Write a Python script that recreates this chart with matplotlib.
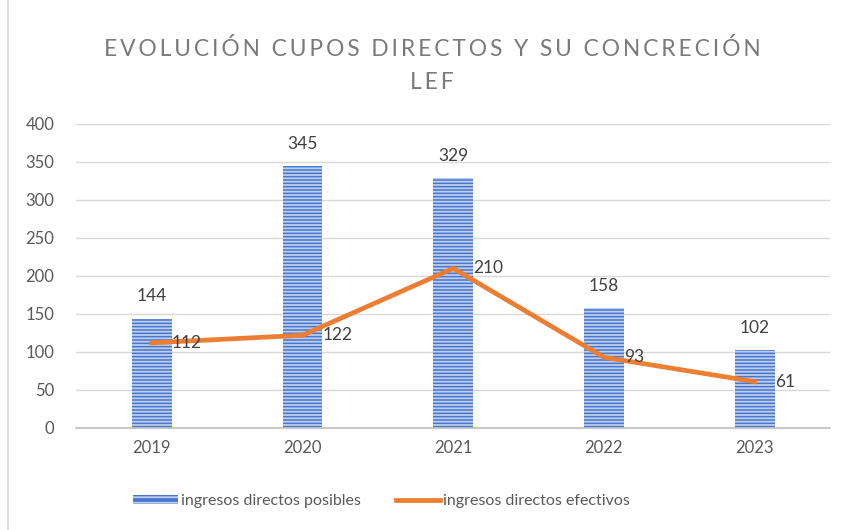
import matplotlib
matplotlib.use("Agg")
import matplotlib.pyplot as plt
from matplotlib.patches import Rectangle
from matplotlib.lines import Line2D
import numpy as np

years = ["2019", "2020", "2021", "2022", "2023"]
posibles = [144, 345, 329, 158, 102]
efectivos = [112, 122, 210, 93, 61]
yticks = [0, 50, 100, 150, 200, 250, 300, 350, 400]
title_lines = ["EVOLUCIÓN CUPOS DIRECTOS Y SU CONCRECIÓN", "LEF"]

plt.rcParams['font.family'] = ['Lato', 'DejaVu Sans']
plt.rcParams['hatch.linewidth'] = 1.3

fig = plt.figure(figsize=(8.44, 5.30), dpi=100)
ax = fig.add_axes([0.0906, 0.1925, 0.8928, 0.5736])

x = np.arange(len(years))
bw = 0.265
ax.bar(x, posibles, width=bw, color='#4a76cc', linewidth=0, zorder=2)
ax.bar(x, posibles, width=bw, color='none', edgecolor='#bccef0', hatch='-----', linewidth=0, zorder=2.1)
ax.plot(x, efectivos, color='#ED7D31', linewidth=3.4, zorder=3)

txtc = '#404040'
for xi, v in zip(x, posibles):
    ax.annotate(str(v), (xi, v), xytext=(0, 16), textcoords='offset points',
                ha='center', va='center', fontsize=12.5, color=txtc)
for xi, v in zip(x, efectivos):
    ax.annotate(str(v), (xi, v), xytext=(14.5, 0), textcoords='offset points',
                ha='left', va='center', fontsize=12.5, color=txtc, zorder=4)

ax.set_xlim(-0.5, len(years) - 0.5)
ax.set_ylim(0, 400)
ax.set_yticks(yticks)
ax.set_xticks(x)
ax.set_xticklabels(years)
ax.tick_params(axis='both', length=0, labelsize=12, labelcolor='#595959')
ax.tick_params(axis='y', pad=16)
ax.tick_params(axis='x', pad=9)
ax.grid(axis='y', color='#d9d9d9', linewidth=1, zorder=0)
ax.set_axisbelow(True)
for s in ['top', 'right', 'left']:
    ax.spines[s].set_visible(False)
ax.spines['bottom'].set_color('#bfbfbf')
ax.spines['bottom'].set_linewidth(1.2)

def spaced(s):
    return "\u2009".join(list(s))

fig.text(0.512, 0.908, spaced(title_lines[0]), ha='center', va='center',
         fontsize=16.4, color='#7a7a7a')
fig.text(0.512, 0.845, spaced(title_lines[1]), ha='center', va='center',
         fontsize=16.4, color='#7a7a7a')

# legend
h1 = Rectangle((0, 0), 1, 1, facecolor='#4a76cc', edgecolor='#bccef0', hatch='---', linewidth=0)
h2 = Line2D([0], [0], color='#ED7D31', linewidth=3.4)
leg = fig.legend([h1, h2], ["ingresos directos posibles", "ingresos directos efectivos"],
                 loc='center', bbox_to_anchor=(0.452, 0.055), ncol=2, frameon=False,
                 fontsize=11.5, handlelength=2.8, handletextpad=0.15, columnspacing=2.2,
                 labelcolor='#595959', handleheight=0.5)

fig.patches.append(Rectangle((0.0095, -0.01), 1.0, 1.02, transform=fig.transFigure,
                             fill=False, edgecolor='#d9d9d9', linewidth=1.2))

fig.savefig("out.png", dpi=100)
